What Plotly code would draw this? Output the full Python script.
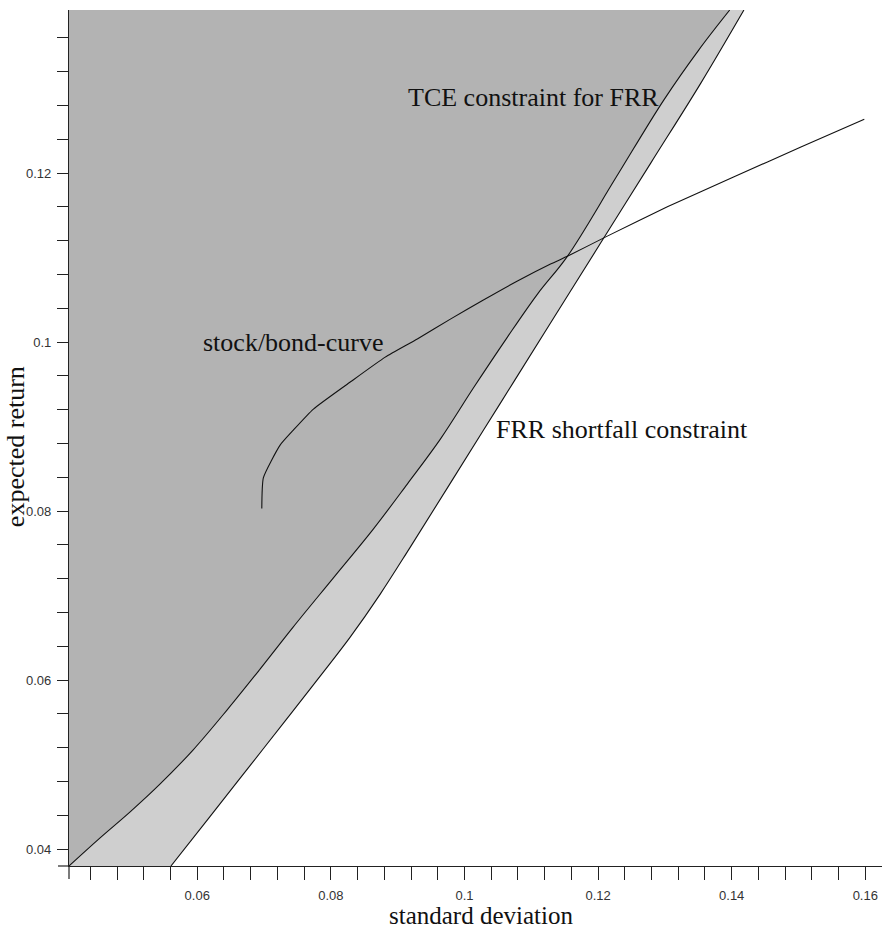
import plotly.graph_objects as go

# Axis extents (standard deviation, expected return)
x_range = [0.0408, 0.1625]
y_range = [0.0380, 0.1393]

# TCE constraint for FRR: boundary of the dark region
tce_sd = [0.0408, 0.04541, 0.04991, 0.05441, 0.05936, 0.06445, 0.06940, 0.07435,
          0.08035, 0.08635, 0.09144, 0.09639, 0.10133, 0.10643, 0.11093, 0.11543,
          0.12263, 0.12983, 0.13506, 0.13971]
tce_ret = [0.0380, 0.04130, 0.04438, 0.04769, 0.05172, 0.05645, 0.06130, 0.06627,
           0.07207, 0.07787, 0.08320, 0.08852, 0.09456, 0.10059, 0.10568, 0.11018,
           0.11941, 0.12864, 0.13456, 0.13930]

# FRR shortfall constraint: boundary of the light region
frr_sd = [0.05606, 0.06190, 0.06790, 0.07390, 0.07840, 0.08289, 0.08739, 0.09189,
          0.09789, 0.10538, 0.11288, 0.12038, 0.12788, 0.13538, 0.14183]
frr_ret = [0.0380, 0.04385, 0.04988, 0.05592, 0.06047, 0.06509, 0.07018, 0.07574,
           0.08331, 0.09278, 0.10225, 0.11172, 0.12118, 0.13065, 0.13930]

# stock/bond mix curve
sb_sd = [0.06966, 0.06990, 0.07240, 0.07439, 0.07739, 0.08290, 0.08814, 0.09294,
         0.09789, 0.10283, 0.10793, 0.11288, 0.11547, 0.12138, 0.13037, 0.14036,
         0.15036, 0.15985]
sb_ret = [0.08032, 0.08396, 0.08781, 0.08959, 0.09207, 0.09527, 0.09822, 0.10036,
          0.10272, 0.10497, 0.10722, 0.10923, 0.11018, 0.11254, 0.11601, 0.11956,
          0.12308, 0.12636]

x_major = [0.06, 0.08, 0.10, 0.12, 0.14, 0.16]
x_labels = ["0.06", "0.08", "0.1", "0.12", "0.14", "0.16"]
y_major = [0.04, 0.06, 0.08, 0.10, 0.12]
y_labels = ["0.04", "0.06", "0.08", "0.1", "0.12"]

DARK = "#b3b3b3"
LIGHT = "#cfcfcf"
INK = "#111111"
SERIF = "Liberation Serif, Times New Roman, serif"
SANS = "Liberation Sans, Arial, sans-serif"

fig = go.Figure()

# each constraint curve shades everything to its left (fill toward x = 0,
# clipped at the axis), so the fill edge follows the drawn curve exactly
fig.add_trace(go.Scatter(
    x=frr_sd, y=frr_ret, mode="lines", fill="tozerox", fillcolor=LIGHT,
    line=dict(color=INK, width=1.1, shape="spline", smoothing=1.0),
    hoverinfo="skip", showlegend=False))
fig.add_trace(go.Scatter(
    x=tce_sd, y=tce_ret, mode="lines", fill="tozerox", fillcolor=DARK,
    line=dict(color=INK, width=1.1, shape="spline", smoothing=1.0),
    hoverinfo="skip", showlegend=False))
fig.add_trace(go.Scatter(
    x=sb_sd, y=sb_ret, mode="lines",
    line=dict(color=INK, width=1.1, shape="spline", smoothing=0.5),
    showlegend=False))

label_font = dict(family=SERIF, size=26, color=INK)
fig.add_annotation(x=0.0913, y=0.1289, text="TCE constraint for FRR",
                   xanchor="left", yanchor="middle", showarrow=False, font=label_font)
fig.add_annotation(x=0.0605, y=0.1000, text="stock/bond-curve",
                   xanchor="left", yanchor="middle", showarrow=False, font=label_font)
fig.add_annotation(x=0.1044, y=0.0896, text="FRR shortfall constraint",
                   xanchor="left", yanchor="middle", showarrow=False, font=label_font)

# axis titles
fig.add_annotation(x=0.507, y=-0.0745, xref="paper", yref="paper",
                   text="standard deviation", showarrow=False, borderpad=0,
                   xanchor="center", yanchor="bottom",
                   font=dict(family=SERIF, size=25, color=INK))
fig.add_annotation(x=-0.086, y=0.49, xref="paper", yref="paper",
                   text="expected return", showarrow=False, textangle=-90,
                   xanchor="left", yanchor="middle",
                   font=dict(family=SERIF, size=26, color=INK))

# axis line stubs past the origin corner
fig.add_shape(type="line", xref="paper", yref="paper",
              x0=-0.0135, x1=0, y0=0, y1=0, line=dict(color="#222222", width=1.2))
fig.add_shape(type="line", xref="paper", yref="paper",
              x0=0, x1=0, y0=0, y1=-0.0152, line=dict(color="#222222", width=1.2))

fig.update_xaxes(range=x_range, showgrid=False, zeroline=False,
                 showline=True, linecolor="#222222", linewidth=1.2,
                 ticks="outside", ticklen=13, tickwidth=1.2, tickcolor="#222222",
                 tickvals=x_major, ticktext=x_labels, ticklabelstandoff=4,
                 tickfont=dict(family=SANS, size=13, color="#333333"),
                 minor=dict(dtick=0.004, tick0=0.04, ticks="outside", ticklen=13,
                            tickwidth=1.2, tickcolor="#222222", showgrid=False))
fig.update_yaxes(range=y_range, showgrid=False, zeroline=False,
                 showline=True, linecolor="#222222", linewidth=1.2,
                 ticks="outside", ticklen=11, tickwidth=1.2, tickcolor="#222222",
                 tickvals=y_major, ticktext=y_labels, ticklabelstandoff=3,
                 tickfont=dict(family=SANS, size=13, color="#333333"),
                 minor=dict(dtick=0.004, tick0=0.04, ticks="outside", ticklen=11,
                            tickwidth=1.2, tickcolor="#222222", showgrid=False))

fig.update_layout(width=882, height=930,
                  margin=dict(l=69, r=0, t=10, b=64),
                  paper_bgcolor="white", plot_bgcolor="white",
                  showlegend=False)

fig.write_html("out.html")
